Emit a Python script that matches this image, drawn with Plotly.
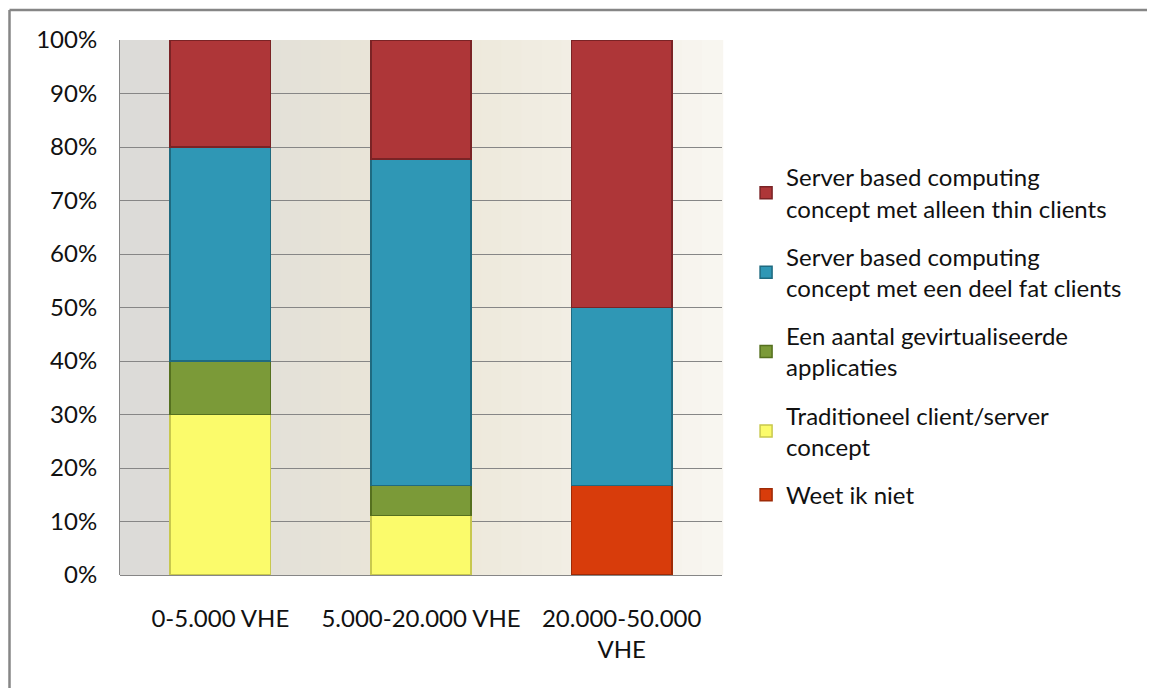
import plotly.graph_objects as go

categories = ["0-5.000 VHE", "5.000-20.000 VHE", "20.000-50.000<br>VHE"]

weet_ik_niet = [0.0, 0.0, 16.7]
traditioneel = [30.0, 11.1, 0.0]
gevirtualiseerd = [10.0, 5.6, 0.0]
sbc_fat = [40.0, 61.1, 33.3]
sbc_thin = [20.0, 22.2, 50.0]

series_names = [
    "Weet ik niet",
    "Traditioneel client/server<br>concept",
    "Een aantal gevirtualiseerde<br>applicaties",
    "Server based computing<br>concept met een deel fat clients",
    "Server based computing<br>concept met alleen thin clients",
]
series_values = [weet_ik_niet, traditioneel, gevirtualiseerd, sbc_fat, sbc_thin]
fill_colors = ["#D83C0B", "#FBFB6B", "#7B9A38", "#2F97B5", "#AE3638"]
line_colors = ["#9E2A06", "#C8C84E", "#55701F", "#1F6A80", "#7A2325"]

y_ticks = [0, 10, 20, 30, 40, 50, 60, 70, 80, 90, 100]
y_ticktext = [f"{v}%" for v in y_ticks]

FONT = "Lato"

fig = go.Figure()
for i, (name, vals) in enumerate(zip(series_names, series_values)):
    fig.add_trace(go.Bar(
        x=categories, y=vals, name=name,
        legendgroup=f"g{i}",
        legendrank=(len(series_names) - i) * 100,
        marker=dict(color=fill_colors[i], line=dict(color=line_colors[i], width=1.5)),
    ))

# background gradient for plot area (gray left -> beige -> near white right)
shapes = []
n = 30
c0 = (220, 219, 216)
c1 = (236, 231, 216)
c2 = (248, 246, 240)
for k in range(n):
    t = k / (n - 1)
    if t < 0.5:
        u = t / 0.5
        c = tuple(int(c0[j] + (c1[j] - c0[j]) * u) for j in range(3))
    else:
        u = (t - 0.5) / 0.5
        c = tuple(int(c1[j] + (c2[j] - c1[j]) * u) for j in range(3))
    shapes.append(dict(type="rect", xref="x domain", yref="y domain",
                       x0=k / n, x1=(k + 1) / n + 0.002, y0=0, y1=1,
                       fillcolor=f"rgb{c}", line=dict(width=0), layer="below"))
# outer chart border (only left and top edges are visible in the reference)
bx0 = (1.5 - 112) / 602
by_top = 1 + 30 / 535
bx_right = (1147 - 112) / 602
shapes.append(dict(type="line", xref="paper", yref="paper",
                   x0=bx0, x1=bx0, y0=-0.4, y1=by_top,
                   line=dict(color="#868686", width=2.5)))
shapes.append(dict(type="line", xref="paper", yref="paper",
                   x0=bx0, x1=bx_right, y0=by_top, y1=by_top,
                   line=dict(color="#868686", width=2.5)))

fig.update_layout(
    width=1147, height=680,
    margin=dict(l=112, r=433, t=32, b=113),
    paper_bgcolor="white",
    plot_bgcolor="rgba(0,0,0,0)",
    barmode="stack",
    bargap=0.5,
    font=dict(family=FONT, size=24, color="#111111"),
    shapes=shapes,
    showlegend=True,
    legend=dict(
        x=1.04, y=0.785, xanchor="left", yanchor="top",
        traceorder="grouped", tracegroupgap=14,
        font=dict(family=FONT, size=24, color="#111111"),
        bgcolor="rgba(0,0,0,0)", itemwidth=30,
    ),
    xaxis=dict(
        showgrid=False, showline=False, ticks="",
        tickfont=dict(size=24), ticklabelstandoff=27,
    ),
    yaxis=dict(
        range=[0, 100], tickvals=y_ticks, ticktext=y_ticktext,
        showgrid=True, gridcolor="#868686", gridwidth=1,
        showline=True, linecolor="#868686", linewidth=1,
        zeroline=True, zerolinecolor="#868686", zerolinewidth=1,
        ticks="", tickfont=dict(size=24), ticklabelstandoff=17,
    ),
)

fig.write_html("out.html")
